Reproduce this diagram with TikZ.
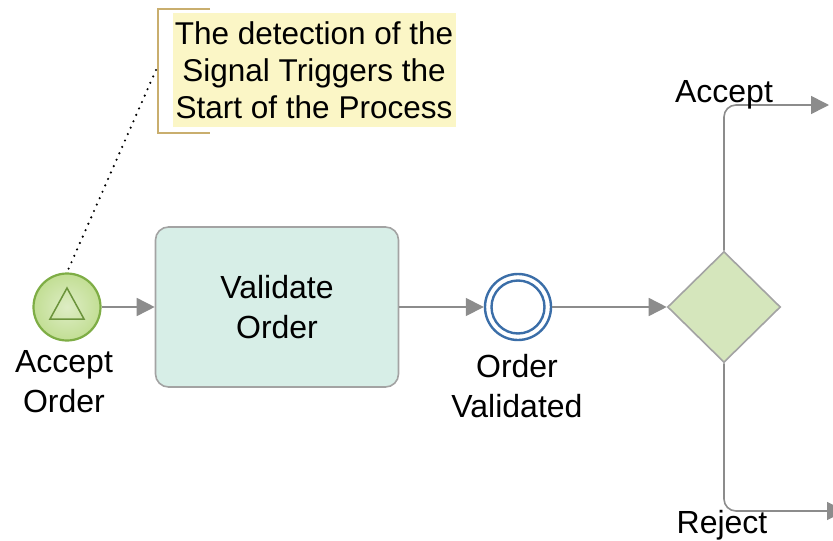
\documentclass[tikz,border=0pt]{standalone}
\usepackage{fontspec}
\setmainfont{Liberation Sans}
\usetikzlibrary{arrows.meta,shapes.geometric}
\definecolor{flowgray}{HTML}{8C8C8C}
\definecolor{startfill}{HTML}{C2DE94}
\definecolor{startline}{HTML}{7EAD45}
\definecolor{taskfill}{HTML}{D7EEE7}
\definecolor{gwfill}{HTML}{D5E6BC}
\definecolor{evblue}{HTML}{3B6EA8}
\definecolor{notefill}{HTML}{FBF6C6}
\definecolor{notegold}{HTML}{C9AE6E}
\tikzset{
  flow/.style={draw=flowgray, line width=1.6pt, -{Triangle[length=18pt,width=18pt]}},
  lbl/.style={font=\fontsize{32}{40}\selectfont, align=center, inner sep=0pt},
}
\begin{document}
\begin{tikzpicture}[x=1pt,y=-1pt]
\useasboundingbox (0,0) rectangle (833,541);
% annotation
\fill[notefill] (173,13) rectangle (456,127);
\node[font=\fontsize{31.5}{37}\selectfont, align=center, inner sep=0pt] (note) at (314,70) {The detection of the\\Signal Triggers the\\Start of the Process};
\draw[notegold, line width=1.5pt] (210,9) -- (158,9) -- (158,133) -- (210,133);
\coordinate (notepin) at (156,70);
% start event
\node[circle, draw=startline, line width=2.2pt, inner color=startfill!55, outer color=startfill, minimum size=67pt, inner sep=0pt] (start) at (67,307) {};
\draw[startline!85!black, line width=1.5pt] (67,288) -- (84,319) -- (50,319) -- cycle;
\node[lbl] (startlbl) at (64,382) {Accept\\Order};
\draw[black, line width=2.4pt, line cap=round, dash pattern=on 0pt off 7pt] (notepin) -- (start.north);
% task
\node[draw=flowgray!80, line width=1.6pt, fill=taskfill, rounded corners=13pt, minimum width=243pt, minimum height=160pt, inner sep=0pt, lbl] (task) at (277,307) {Validate\\Order};
% intermediate event
\node[circle, draw=evblue, line width=2.4pt, minimum size=66pt, inner sep=0pt] (ev) at (518,307) {};
\draw[evblue, line width=2.4pt] (ev.center) circle[radius=26.5];
\node[lbl] (evlbl) at (517,386) {Order\\Validated};
% gateway
\node[diamond, draw=flowgray!80, line width=1.6pt, fill=gwfill, minimum width=113pt, minimum height=111pt, inner sep=0pt] (gw) at (724,307) {};
% flows
\draw[flow] (start.east) -- (task.west);
\draw[flow] (task.east) -- (ev.west);
\draw[flow] (ev.east) -- (gw.west);
\coordinate (acc) at (829,105);
\coordinate (rej) at (845,511);
\draw[flow, rounded corners=12pt] (gw.north) |- (acc);
\draw[flow, rounded corners=12pt] (gw.south) |- (rej);
\node[lbl] (acclbl) at (724,95) {Accept};
\node[lbl] (rejlbl) at (722,525) {Reject};
\end{tikzpicture}
\end{document}
